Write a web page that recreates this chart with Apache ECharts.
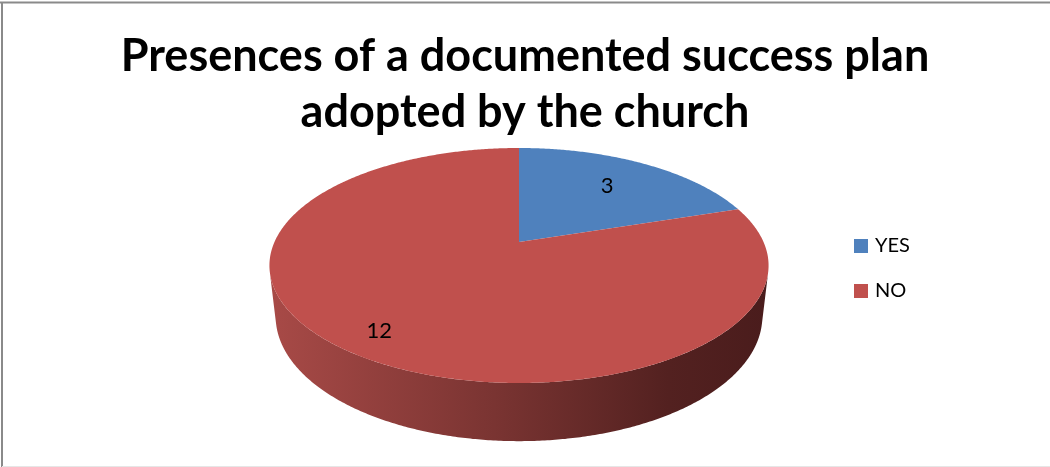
<!DOCTYPE html>
<html>
<head>
<meta charset="utf-8">
<script src="https://cdn.jsdelivr.net/npm/echarts@6/dist/echarts.min.js"></script>
<style>
  html, body { margin: 0; padding: 0; background: #fff; }
  #chart { width: 1050px; height: 467px; }
</style>
</head>
<body>
<div id="chart"></div>
<script>
// Survey answers
const categories = ['YES', 'NO'];
const values = [3, 12];
const sliceColors = ['#4F81BD', '#C0504D'];

// Perspective camera for the tilted 3D pie (unit radius disc)
const VIEW = {
  cx: 519, cy: 242,      // screen position of the disc centre
  focal: 1084,           // projection scale
  dist: 4.435,           // camera distance in radii
  sinT: 0.4613, cosT: 0.887,
  thickness: 0.237,      // disc height in radii
  labelRadius: [0.68, 0.84]
};

function project(X, Y, Z) {
  const ry = Y - VIEW.dist * VIEW.sinT;
  const rz = Z - VIEW.dist * VIEW.cosT;
  const yc = ry * VIEW.cosT - rz * VIEW.sinT;
  const zc = -ry * VIEW.sinT - rz * VIEW.cosT;
  return [VIEW.cx + VIEW.focal * X / zc, VIEW.cy - VIEW.focal * yc / zc];
}

// angle in degrees, clockwise from twelve o'clock
function rim(deg, r, y) {
  const a = deg * Math.PI / 180;
  return project(r * Math.sin(a), y, -r * Math.cos(a));
}

function arc(a0, a1, r, y) {
  const pts = [];
  const n = Math.max(2, Math.ceil(Math.abs(a1 - a0) / 0.5));
  for (let i = 0; i <= n; i++) pts.push(rim(a0 + (a1 - a0) * i / n, r, y));
  return pts;
}

// side wall faces the camera where cos(angle) < -1 / (dist * cosT)
const sideLimit = Math.acos(-1 / (VIEW.dist * VIEW.cosT)) * 180 / Math.PI;

const total = values.reduce((s, v) => s + v, 0);

function sliceRenderer(ci) {
  return function (params, api) {
    const v = api.value(0);
    const before = values.slice(0, ci).reduce((s, x) => s + x, 0);
    const a0 = before / total * 360;
    const a1 = a0 + v / total * 360;
    const children = [];

    // visible part of the curved side
    const s0 = Math.max(a0, sideLimit);
    const s1 = Math.min(a1, 360 - sideLimit);
    if (s1 > s0) {
      const topArc = arc(s0, s1, 1, 0);
      const botArc = arc(s1, s0, 1, -VIEW.thickness);
      const left = rim(360 - sideLimit, 1, 0)[0];
      const right = rim(sideLimit, 1, 0)[0];
      children.push({
        type: 'polygon',
        shape: { points: topArc.concat(botArc) },
        style: {
          fill: new echarts.graphic.LinearGradient(left, 0, right, 0, [
            { offset: 0, color: '#A84A47' },
            { offset: 0.45, color: '#7A3432' },
            { offset: 0.8, color: '#532120' },
            { offset: 1, color: '#4A1C1C' }
          ], true)
        }
      });
    }

    // top face
    children.push({
      type: 'polygon',
      shape: { points: [project(0, 0, 0)].concat(arc(a0, a1, 1, 0)) },
      style: { fill: sliceColors[ci] }
    });

    // value label
    const lp = rim((a0 + a1) / 2, VIEW.labelRadius[ci], 0);
    children.push({
      type: 'text',
      style: {
        text: String(v),
        x: lp[0], y: lp[1],
        align: 'center', verticalAlign: 'middle',
        fontSize: 22, fontFamily: 'Lato', fill: '#000'
      },
      z2: 10
    });

    return { type: 'group', children: children };
  };
}

const chart = echarts.init(document.getElementById('chart'), null, { renderer: 'canvas' });

chart.setOption({
  animation: false,
  backgroundColor: '#fff',
  title: {
    text: 'Presences of a documented success plan\nadopted by the church',
    left: 'center',
    top: 23,
    textStyle: {
      fontFamily: 'Lato', fontWeight: 'bold', fontSize: 45,
      lineHeight: 56, color: '#000'
    }
  },
  legend: {
    orient: 'vertical',
    left: 849, top: 231,
    icon: 'rect',
    itemWidth: 14, itemHeight: 14,
    itemGap: 25,
    textStyle: { fontFamily: 'Lato', fontSize: 20, lineHeight: 20, color: '#000', padding: [0, 0, 0, 2] },
    data: categories
  },
  graphic: [
    { type: 'line', shape: { x1: 0, y1: 2.5, x2: 1050, y2: 2.5 }, style: { stroke: '#8a8a8a', lineWidth: 2 } },
    { type: 'line', shape: { x1: 2, y1: 2, x2: 2, y2: 467 }, style: { stroke: '#8a8a8a', lineWidth: 2 } },
    { type: 'line', shape: { x1: 2, y1: 466.5, x2: 1050, y2: 466.5 }, style: { stroke: '#e6e6e6', lineWidth: 1 } }
  ],
  series: categories.map((name, ci) => ({
    type: 'custom',
    name: name,
    coordinateSystem: 'none',
    itemStyle: { color: sliceColors[ci] },
    data: [[values[ci]]],
    renderItem: sliceRenderer(ci)
  }))
});
</script>
</body>
</html>
